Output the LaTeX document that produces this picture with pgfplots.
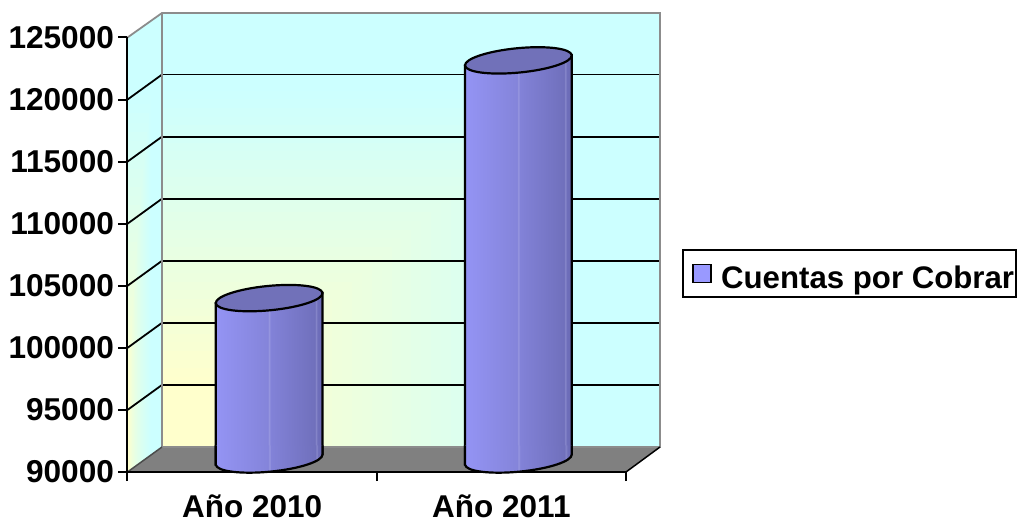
\documentclass[border=0pt]{standalone}
\usepackage{fontspec}
\setmainfont{Liberation Sans}
\usepackage{pgfplots}
\pgfplotsset{compat=1.18}

% Cylinder body: a lit left flank falling off to the right, with thin facet highlights
\pgfdeclarehorizontalshading{cyl}{100bp}{
  rgb(0bp)=(.518,.518,.863);
  rgb(4.4bp)=(.565,.565,.933); rgb(5bp)=(.643,.643,.973); rgb(5.6bp)=(.573,.573,.941);
  rgb(12.4bp)=(.596,.596,.988); rgb(13bp)=(.667,.667,1); rgb(13.6bp)=(.596,.596,.988);
  rgb(25bp)=(.58,.58,.957);
  rgb(49.4bp)=(.518,.518,.855); rgb(50bp)=(.604,.604,.878); rgb(50.6bp)=(.51,.51,.847);
  rgb(71.4bp)=(.439,.439,.737); rgb(72bp)=(.541,.541,.8); rgb(72.6bp)=(.431,.431,.729);
  rgb(83.4bp)=(.4,.4,.675); rgb(84bp)=(.502,.502,.753); rgb(84.6bp)=(.392,.392,.667);
  rgb(90.4bp)=(.369,.369,.627); rgb(91bp)=(.478,.478,.706); rgb(91.6bp)=(.361,.361,.62);
  rgb(100bp)=(.341,.341,.565)}

\definecolor{wallwarm}{HTML}{FFFFCC}
\definecolor{wallcool}{HTML}{CCFFFF}
\definecolor{wallframe}{HTML}{8C8C8C}
\definecolor{floorgray}{HTML}{808080}
\definecolor{captop}{HTML}{7171B9}
\definecolor{swatch}{HTML}{9999FF}

% Tilted top face of a cylinder
\pgfdeclareplotmark{cylcap}{%
  \pgftransformrotate{5.5}%
  \pgfpathellipse{\pgfpointorigin}{\pgfpoint{53.6pt}{0pt}}{\pgfpoint{0pt}{12.2pt}}%
  \pgfsetfillcolor{captop}%
  \pgfusepathqfillstroke}

% Rounded foot of a cylinder, shaded like the body so it joins it without a seam
\pgfdeclareplotmark{cylfoot}{%
  \begin{pgfscope}%
    \pgfpathmoveto{\pgfpoint{-53.35pt}{14pt}}%
    \pgfpathlineto{\pgfpoint{-53.35pt}{-5.14pt}}%
    \pgftransformrotate{5.5}%
    \pgfpatharc{180}{360}{53.6pt and 12.2pt}%
    \pgftransformrotate{-5.5}%
    \pgfpathlineto{\pgfpoint{53.35pt}{14pt}}%
    \pgfpathclose
    \pgfshadepath{cyl}{0}%
    \pgfusepath{discard}%
  \end{pgfscope}%
  \pgfpathmoveto{\pgfpoint{-53.35pt}{14pt}}%
  \pgfpathlineto{\pgfpoint{-53.35pt}{-5.14pt}}%
  \pgftransformrotate{5.5}%
  \pgfpatharc{180}{360}{53.6pt and 12.2pt}%
  \pgftransformrotate{-5.5}%
  \pgfpathlineto{\pgfpoint{53.35pt}{14pt}}%
  \pgfusepathqstroke}

\newcommand{\chartfont}[1]{\fontsize{#1}{36}\selectfont\bfseries}

\pgfplotsset{
  chart frame/.style={
    scale only axis, width=498.5pt, height=434.5pt,
    xmin=0, xmax=2, ymin=90000, ymax=125000,
    clip=false, scaled y ticks=false,
  },
  % Body of a cylinder; the slant makes its top and bottom edges follow the tilt of the faces
  cylinder body/.style={
    forget plot, ybar, bar width=106.7pt, bar shift=0pt, draw=black,
    line width=2.2pt, shade, shading=cyl, yslant=0.0963, yshift=#1,
  },
}

\begin{document}
\begin{tikzpicture}[x=1pt,y=1pt]
  \path[use as bounding box] (0,0) rectangle (1018,522);

  % Back wall: colour runs from the lower left corner outwards
  \foreach \t in {1.00,0.98,...,0.00}{
    \pgfmathsetmacro{\mixv}{100*max(0,min(1,(\t-0.15)/0.68))}
    \fill[wallcool!\mixv!wallwarm] (162,75) rectangle ({162+498*\t+0.5},{75+434*\t+0.5});
  }
  % Side wall
  \begin{scope}
    \clip (127.5,50) -- (162,75) -- (162,509) -- (127.5,484.5) -- cycle;
    \foreach \t in {1.00,0.98,...,0.00}{
      \pgfmathsetmacro{\mixv}{100*max(0,min(1,(\t-0.15)/0.68))}
      \fill[wallcool!\mixv!wallwarm] (127,50) rectangle ({127.5+34.5*\t*\t+0.5},{50+459*\t+0.5});
    }
  \end{scope}

  % Horizontal rules on the back wall
  \begin{axis}[chart frame, at={(162pt,75pt)}, anchor=south west,
      axis line style={draw=none}, xtick=\empty,
      ytick={95000,100000,105000,110000,115000,120000}, yticklabels={}, major tick length=0pt,
      ymajorgrids, grid style={black, line width=1.8pt}]
  \end{axis}

  % Rules across the side wall
  \foreach \v in {1,...,6}{
    \draw[black, line width=1.8pt] (127.5,{50+62.07*\v}) -- (162,{75+62.07*\v});
  }

  % Floor and wall frame
  \fill[floorgray] (127.5,50) -- (162,75) -- (660,75) -- (626,50) -- cycle;
  \draw[wallframe, line width=1.8pt] (127.5,484.5) -- (162,509) -- (660,509) -- (660,75) -- (162,75) -- (162,509);
  \draw[black!70, line width=1.5pt] (127.5,50) -- (162,75);
  \draw[black, line width=1.5pt] (626,50) -- (660,75);

  % Value and category axes on the front plane
  \begin{axis}[chart frame, at={(127.5pt,50pt)}, anchor=south west,
      axis x line*=bottom, axis y line*=left,
      axis line style={-, black, line width=2pt},
      tick style={black, line width=2pt},
      tick align=outside, major tick length=9pt,
      xtick={0,1,2}, xticklabels={Año 2010, Año 2011},
      x tick label as interval,
      ytick={90000,95000,100000,105000,110000,115000,120000,125000},
      yticklabels={90000,95000,100000,105000,110000,115000,120000,125000},
      yticklabel style={font=\chartfont{31.6}, text=black, xshift=-1pt},
      xticklabel style={font=\chartfont{31.5}, text=black, yshift=-10pt}]
  \end{axis}

  % Cylinders sit halfway back between the front plane and the back wall
  \begin{axis}[chart frame, at={(144.5pt,62.5pt)}, anchor=south west,
      hide axis,
      legend cell align=left,
      legend style={at={(1.7505,0.428)}, anchor=east, draw=black, line width=2pt,
        font=\chartfont{31.2}, inner xsep=0pt, inner ysep=5pt,
        nodes={inner xsep=2pt, inner ysep=2pt, line width=1.8pt}},
      legend image code/.code={
        \path (-9pt,0pt) (25pt,0pt);
        \draw[black, line width=1.8pt, fill=swatch] (0pt,-9pt) rectangle (18pt,9pt);
      }]
    \addlegendimage{}
    \addlegendentry{\rule[-6pt]{0pt}{38pt}Cuentas por Cobrar}

    \addplot[cylinder body=-11.96pt] coordinates {(0.5,103000)};
    \addplot[cylinder body=-35.88pt] coordinates {(1.5,122150)};
    \addplot[forget plot, only marks, mark=cylfoot, line width=2.2pt]
      coordinates {(0.5,90000) (1.5,90000)};
    \addplot[forget plot, only marks, mark=cylcap, line width=2.2pt]
      coordinates {(0.5,103000) (1.5,122150)};
  \end{axis}
\end{tikzpicture}
\end{document}
